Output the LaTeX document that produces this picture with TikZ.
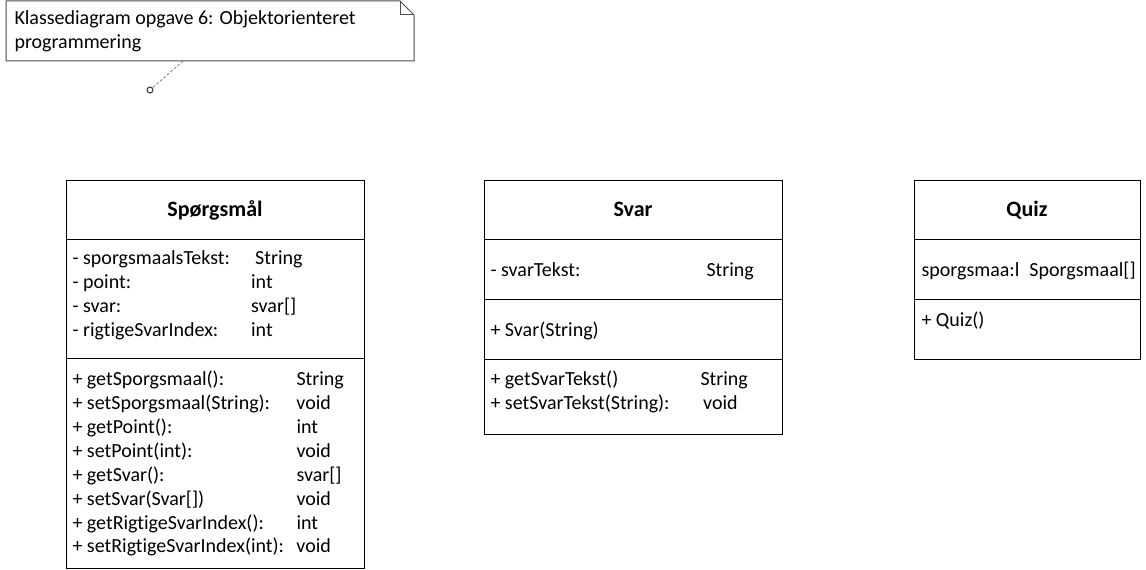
\documentclass[tikz,border=0pt]{standalone}
\usepackage{fontspec}
\setmainfont{Carlito}[Ligatures={NoCommon}]
\usetikzlibrary{positioning}

\begin{document}
\begin{tikzpicture}[x=0.75pt, y=-0.75pt, line width=0.75pt,
    member/.style={anchor=base west, inner sep=0pt, font=\fontsize{15}{18}\selectfont},
    classtitle/.style={anchor=base, inner sep=0pt, font=\fontsize{16.5}{20}\selectfont\bfseries},
    pinhead/.style={circle, draw=black!80, inner sep=0pt, minimum size=4.5pt}]

            % Canvas
            \useasboundingbox (0,0) rectangle (1146,570);

            % Note (folded corner)
            \draw[black!70] (6,1) -- (400,1) -- (414,15) -- (414,61) -- (6,61) -- cycle;
            \draw[black!70] (400,1) -- (400,15) -- (414,15);
            \node[member] (notetext) at (14,25) {\begin{tabular}[t]{@{}l@{}}
                Klassediagram opgave 6: Objektorienteret\\
                programmering
            \end{tabular}};

            % Note connector
            \coordinate (notefoot) at (183,61);
            \node[pinhead] (pin) at (150,90) {};
            \draw[black!45, dash pattern=on 2pt off 1.5pt] (notefoot) -- (pin);

            % Spørgsmål
            \draw (66,181) rectangle (364,568);
            \draw (66,240) -- (364,240);
            \draw (66,358) -- (364,358);
            \node[classtitle] (sptitle) at (215,217) {Spørgsmål};
            \node[member] (spattr) at (72,265) {\begin{tabular}[t]{@{}p{134pt}@{}l@{}}
                - sporgsmaalsTekst: & \hspace{3pt}String\\
                - point: & int\\
                - svar: & svar[]\\
                - rigtigeSvarIndex: & int
            \end{tabular}};
            \node[member] (spops) at (72,385) {\begin{tabular}[t]{@{}p{168pt}@{}l@{}}
                + getSporgsmaal(): & String\\
                + setSporgsmaal(String): & void\\
                + getPoint(): & int\\
                + setPoint(int): & void\\
                + getSvar(): & svar[]\\
                + setSvar(Svar[]) & void\\
                + getRigtigeSvarIndex(): & int\\
                + setRigtigeSvarIndex(int): & void
            \end{tabular}};

            % Svar
            \draw (484,181) rectangle (782,434);
            \draw (484,240) -- (782,240);
            \draw (484,300) -- (782,300);
            \draw (484,359) -- (782,359);
            \node[classtitle] (svtitle) at (633,217) {Svar};
            \node[member] (svattr) at (490,277) {\begin{tabular}[t]{@{}p{162pt}@{}l@{}}
                - svarTekst: & String
            \end{tabular}};
            \node[member] (svctor) at (490,337) {+ Svar(String)};
            \node[member] (svops) at (490,385) {\begin{tabular}[t]{@{}p{157.5pt}@{}l@{}}
                + getSvarTekst() & String\\
                + setSvarTekst(String): & \hspace{2pt}void
            \end{tabular}};

            % Quiz
            \draw (914,181) rectangle (1140,359);
            \draw (914,240) -- (1140,240);
            \draw (914,300) -- (1140,300);
            \node[classtitle] (qztitle) at (1027,217) {Quiz};
            \node[member] (qzattr) at (921,277) {\begin{tabular}[t]{@{}p{81pt}@{}l@{}}
                sporgsmaa:l & Sporgsmaal[]
            \end{tabular}};
            \node[member] (qzctor) at (921,327) {+ Quiz()};

        \end{tikzpicture}
\end{document}
